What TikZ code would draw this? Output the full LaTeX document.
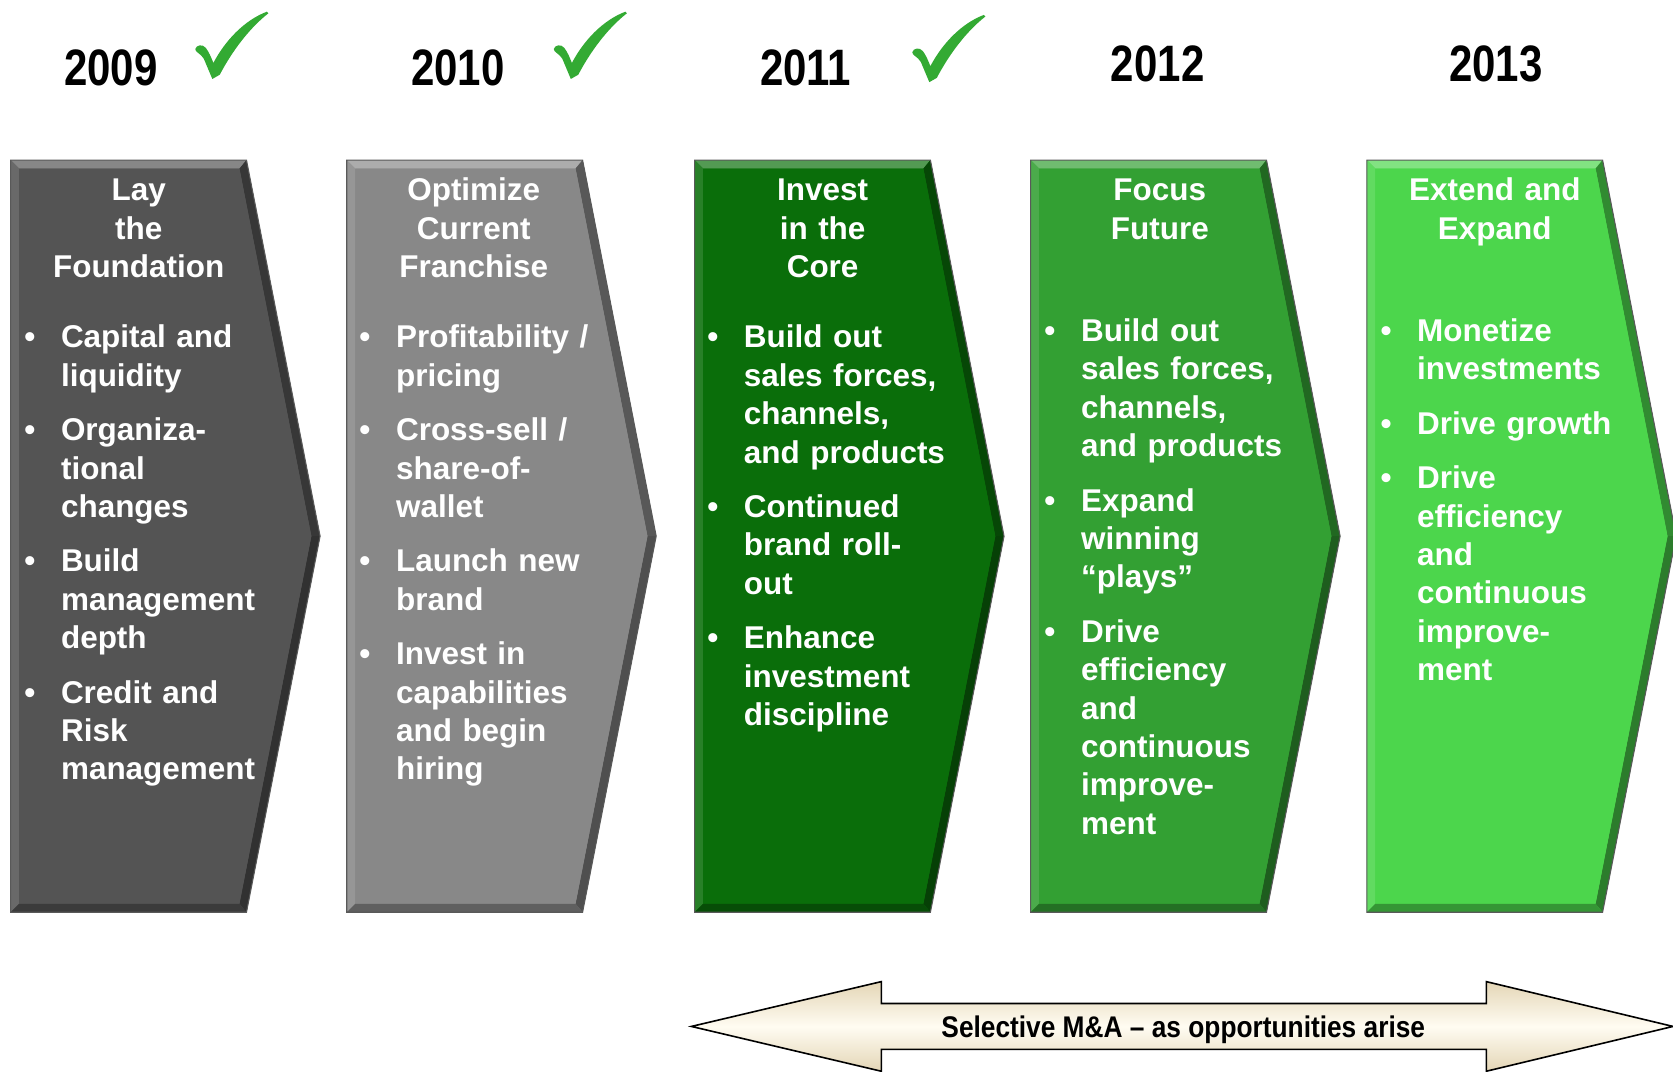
\documentclass[tikz,border=0pt]{standalone}
\usepackage{fontspec}
\setmainfont{Liberation Sans}
\newfontfamily\narrowfont[FakeStretch=0.82]{Liberation Sans}
\newfontfamily\bannerfont[FakeStretch=0.88]{Liberation Sans}

\definecolor{phaseA}{HTML}{545454}
\definecolor{phaseB}{HTML}{888888}
\definecolor{phaseC}{HTML}{0A6E0A}
\definecolor{phaseD}{HTML}{33A033}
\definecolor{phaseE}{HTML}{4CD64C}
\definecolor{tickgreen}{HTML}{33AA33}
\definecolor{creamedge}{RGB}{228,214,182}
\definecolor{creammid}{RGB}{255,252,242}

\tikzset{
  year/.style={font=\narrowfont\bfseries\fontsize{48}{48}\selectfont, anchor=base, inner sep=0pt},
  head/.style={font=\bfseries\fontsize{29.5}{36}\selectfont, text=white, text width=240pt,
               align=center, anchor=base, inner sep=0pt},
  items/.style={font=\bfseries\fontsize{29.5}{36}\selectfont, text=white, text width=250pt,
                align=left, anchor=base west, inner sep=0pt},
  tick/.style={fill=tickgreen},
  banner/.style={font=\bannerfont\bfseries\fontsize{28}{28}\selectfont, anchor=base, inner sep=0pt},
}

% one bullet item with the bullet hanging to the left
\newcommand\itm[1]{\noindent\llap{\textbullet\hspace{24pt}}#1\par}

% bevelled chevron: #1 = left x, #2 = colour
\newcommand\drawchevron[2]{%
  \pgfmathsetmacro\chR{#1+221}\pgfmathsetmacro\chT{#1+290}%
  \pgfmathsetmacro\chLi{#1+8}\pgfmathsetmacro\chRi{\chR-6.57}\pgfmathsetmacro\chTi{\chT-8.16}%
  \fill[#2] (#1,150) -- (\chR,150) -- (\chT,502.5) -- (\chR,855) -- (#1,855) -- cycle;
  % top facet
  \fill[#2!70!white] (#1,150) -- (\chR,150) -- (\chRi,158) -- (\chLi,158) -- cycle;
  % left facet
  \fill[#2!88!white] (#1,150) -- (\chLi,158) -- (\chLi,847) -- (#1,855) -- cycle;
  % right facets
  \fill[#2!65!black] (\chR,150) -- (\chT,502.5) -- (\chTi,502.5) -- (\chRi,158) -- cycle;
  \fill[#2!58!black] (\chT,502.5) -- (\chR,855) -- (\chRi,847) -- (\chTi,502.5) -- cycle;
  % bottom facet
  \fill[#2!70!black] (#1,855) -- (\chR,855) -- (\chRi,847) -- (\chLi,847) -- cycle;
  % face
  \fill[#2] (\chLi,158) -- (\chRi,158) -- (\chTi,502.5) -- (\chRi,847) -- (\chLi,847) -- cycle;
  \draw[black!65, line width=1pt] (#1,150) -- (\chR,150) -- (\chT,502.5) -- (\chR,855) -- (#1,855) -- cycle;
}

% green check mark with its lowest point at (#1,#2)
\newcommand\checkmark[2]{%
  \begin{scope}[shift={(#1,#2)}, yscale=-1]
    \fill[tick] (0,0) -- (-8,19) .. controls (-11,24) and (-16,25) .. (-16,28)
      .. controls (-15,32) and (-9,33) .. (-6,29)
      .. controls (-3,25) and (-1,20) .. (1,15)
      .. controls (12,36) and (30,55) .. (51,63) -- (52.5,61.5)
      .. controls (34,47) and (18,25) .. (7,4) -- cycle;
  \end{scope}}

\begin{document}
\begin{tikzpicture}[x=1pt, y=-1pt]
  \useasboundingbox[fill=white] (0,0) rectangle (1568,1004);

  % years
  \node[year] (y2009) at (104,80) {2009};
  \node[year] (y2010) at (429,80) {2010};
  \node[year] (y2011) at (755,80) {2011};
  \node[year] (y2012) at (1085,76) {2012};
  \node[year] (y2013) at (1402,76) {2013};
  \checkmark{199}{74}
  \checkmark{535}{74}
  \checkmark{871}{77}

  % phases
  \drawchevron{10}{phaseA}
  \drawchevron{325}{phaseB}
  \drawchevron{651}{phaseC}
  \drawchevron{966}{phaseD}
  \drawchevron{1281}{phaseE}

  \node[head] (h1) at (130,188) {Lay\\the\\Foundation};
  \node[head] (h2) at (444,188) {Optimize\\Current\\Franchise};
  \node[head] (h3) at (771,188) {Invest\\in the\\Core};
  \node[head] (h4) at (1087,188) {Focus\\Future};
  \node[head] (h5) at (1401,188) {Extend and\\Expand};

  \node[items] (l1) at (57,326) {\setlength{\parskip}{15pt}%
    \itm{Capital and\\liquidity}
    \itm{Organiza-\\tional\\changes}
    \itm{Build\\management\\depth}
    \itm{Credit and\\Risk\\management}};
  \node[items] (l2) at (371,326) {\setlength{\parskip}{15pt}%
    \itm{Profitability /\\pricing}
    \itm{Cross-sell /\\share-of-\\wallet}
    \itm{Launch new\\brand}
    \itm{Invest in\\capabilities\\and begin\\hiring}};
  \node[items] (l3) at (697,326) {\setlength{\parskip}{15pt}%
    \itm{Build out\\sales forces,\\channels,\\and products}
    \itm{Continued\\brand roll-\\out}
    \itm{Enhance\\investment\\discipline}};
  \node[items] (l4) at (1013,320) {\setlength{\parskip}{15pt}%
    \itm{Build out\\sales forces,\\channels,\\and products}
    \itm{Expand\\winning\\“plays”}
    \itm{Drive\\efficiency\\and\\continuous\\improve-\\ment}};
  \node[items] (l5) at (1328,320) {\setlength{\parskip}{15pt}%
    \itm{Monetize\\investments}
    \itm{Drive growth}
    \itm{Drive\\efficiency\\and\\continuous\\improve-\\ment}};

  % M&A double arrow along the bottom
  \shade[top color=creamedge, bottom color=creamedge, middle color=creammid]
    (648,962) -- (826,920) -- (826,940.5) -- (1393,940.5) -- (1393,920) -- (1568,962)
    -- (1393,1004) -- (1393,983.5) -- (826,983.5) -- (826,1004) -- cycle;
  \draw[black, line width=1.5pt, line join=miter]
    (648,962) -- (826,920) -- (826,940.5) -- (1393,940.5) -- (1393,920) -- (1568,962)
    -- (1393,1004) -- (1393,983.5) -- (826,983.5) -- (826,1004) -- cycle;
  \node[banner] (ma) at (1109,972) {Selective M\&A – as opportunities arise};
\end{tikzpicture}
\end{document}
